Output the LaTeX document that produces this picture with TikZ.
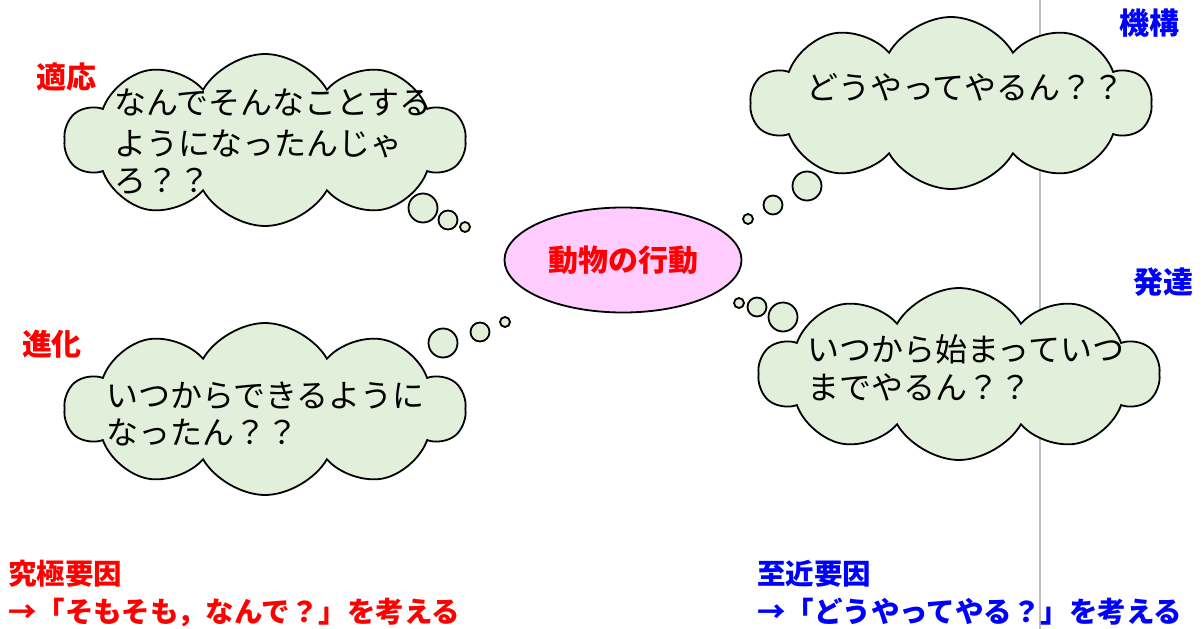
\documentclass[tikz,border=0pt]{standalone}
\usepackage{fontspec}
\newfontfamily\jp{Noto Sans CJK JP}
\usetikzlibrary{shapes.symbols,shapes.geometric}
\definecolor{cloudfill}{HTML}{E2EFDA}
\definecolor{pinkfill}{HTML}{FFCCFF}
\definecolor{myred}{HTML}{FF0000}
\definecolor{myblue}{HTML}{0000FF}
\definecolor{divider}{HTML}{C0C0C0}
\begin{document}
\begin{tikzpicture}[x=1pt,y=-1pt,
  thought/.style={cloud, cloud puffs=10, cloud puff arc=120, draw, line width=1.8pt, fill=cloudfill, minimum width=400pt, minimum height=172pt, inner sep=0pt},
  bub/.style={circle, draw, line width=1.8pt, fill=cloudfill, inner sep=0pt},
  cltext/.style={anchor=base west, inner sep=0pt, font=\jp\fontsize{32}{36}\selectfont},
  label/.style={inner sep=0pt, font=\jp\bfseries\fontsize{30}{34}\selectfont},
  foot/.style={anchor=base west, inner sep=0pt, font=\jp\bfseries\fontsize{28.5}{32}\selectfont}]
\useasboundingbox (0,0) rectangle (1203,629);
\coordinate (divtop) at (1040,0);
\coordinate (divbot) at (1040,629);
\draw[divider, line width=1.5pt] (divtop) -- (divbot);

% center ellipse
\node[ellipse, draw, line width=1.8pt, fill=pinkfill, minimum width=237pt, minimum height=105pt, inner sep=0pt,
      text=myred, font=\jp\bfseries\fontsize{30}{34}\selectfont] (center) at (623,260) {動物の行動};

% cloud 1 (適応)
\node[thought] (c1) at (265,140) {};
\node[bub, minimum size=29pt] (b1a) at (423,208) {};
\node[bub, minimum size=19pt] (b1b) at (448,220) {};
\node[bub, minimum size=10pt] (b1c) at (465,227) {};
\node[cltext] (t1a) at (114,114) {なんでそんなことする};
\node[cltext] (t1b) at (114,155) {ようになったんじゃ};
\node[cltext] (t1c) at (114,192) {ろ？？};
\node[label, text=myred] (l1) at (66,77) {適応};

% cloud 2 (機構)
\node[thought] (c2) at (951,103) {};
\node[bub, minimum size=29pt] (b2a) at (807,186) {};
\node[bub, minimum size=19pt] (b2b) at (773,205) {};
\node[bub, minimum size=10pt] (b2c) at (748,219) {};
\node[cltext] (t2a) at (806,99) {どうやってやるん？？};
\node[label, text=myblue] (l2) at (1149,23) {機構};

% cloud 3 (進化)
\node[thought] (c3) at (265,409) {};
\node[bub, minimum size=29pt] (b3a) at (443,343) {};
\node[bub, minimum size=19pt] (b3b) at (480,332) {};
\node[bub, minimum size=10pt] (b3c) at (505,322) {};
\node[cltext] (t3a) at (106,407) {いつからできるように};
\node[cltext] (t3b) at (106,444) {なったん？？};
\node[label, text=myred] (l3) at (52,344) {進化};

% cloud 4 (発達)
\node[thought] (c4) at (959,374) {};
\node[bub, minimum size=29pt] (b4a) at (783,317) {};
\node[bub, minimum size=19pt] (b4b) at (757,307) {};
\node[bub, minimum size=10pt] (b4c) at (739,303) {};
\node[cltext] (t4a) at (807,361) {いつから始まっていつ};
\node[cltext] (t4b) at (807,399) {までやるん？？};
\node[label, text=myblue] (l4) at (1163,282) {発達};

% footers
\node[foot, text=myred] (f1a) at (8,584) {究極要因};
\node[foot, text=myred] (f1b) at (8,622) {→「そもそも，なんで？」を考える};
\node[foot, text=myblue] (f2a) at (757,584) {至近要因};
\node[foot, text=myblue] (f2b) at (757,622) {→「どうやってやる？」を考える};
\end{tikzpicture}
\end{document}
